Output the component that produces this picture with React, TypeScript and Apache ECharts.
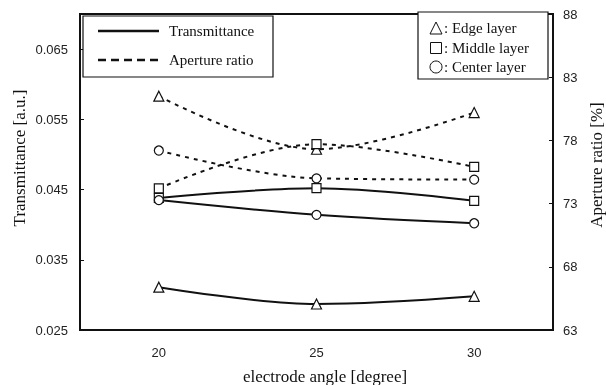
import React, { useEffect, useRef } from "react";
import * as echarts from "echarts";

const categories = ["20", "25", "30"];
const transEdge = [0.0311, 0.0287, 0.0298];
const transMiddle = [0.0438, 0.0452, 0.0434];
const transCenter = [0.0435, 0.0414, 0.0402];
const apertureEdge = [81.5, 77.3, 80.2];
const apertureMiddle = [74.2, 77.7, 75.9];
const apertureCenter = [77.2, 75.0, 74.9];
const leftTicks = [0.025, 0.035, 0.045, 0.055, 0.065];
const rightTicks = [63, 68, 73, 78, 83, 88];

const SERIF = "Liberation Serif";
const SANS = "Liberation Sans";
const INK = "#111";

function mk(name: string, data: number[], axis: number, symbol: string, dashed: boolean) {
  return {
    type: "line",
    name,
    data,
    yAxisIndex: axis,
    smooth: 0.35,
    symbol,
    symbolSize: symbol === "triangle" ? 10 : 9,
    showSymbol: true,
    lineStyle: { color: INK, width: 2, type: dashed ? [4, 5] : "solid" },
    itemStyle: { color: "#fff", borderColor: INK, borderWidth: 1.2 },
    emphasis: { disabled: true },
  };
}

export default function App() {
  const ref = useRef<HTMLDivElement>(null);
  useEffect(() => {
    const chart = echarts.init(ref.current!, null, { renderer: "svg" });
    const txt = (text: string, x: number, y: number, size: number, extra: any = {}) => ({
      type: "text",
      x,
      y,
      z: 100,
      ...extra,
      style: {
        text,
        fill: INK,
        font: `${size}px "${SERIF}"`,
        align: extra.align || "left",
        verticalAlign: "middle",
      },
    });
    chart.setOption({
      animation: false,
      grid: { left: 80, right: 53, top: 14, bottom: 55, show: true, borderColor: INK, borderWidth: 2 },
      xAxis: {
        type: "category",
        data: categories,
        boundaryGap: true,
        axisLine: { lineStyle: { color: INK, width: 2 } },
        axisTick: { inside: true, length: 5, lineStyle: { color: INK } },
        axisLabel: { fontFamily: SANS, fontSize: 13, color: "#222", margin: 16 },
      },
      yAxis: [
        {
          type: "value",
          min: 0.025,
          max: 0.07,
          axisLine: { show: true, lineStyle: { color: INK, width: 2 } },
          axisTick: { show: true, inside: true, length: 4, customValues: leftTicks, lineStyle: { color: INK } },
          axisLabel: {
            customValues: leftTicks,
            formatter: (v: number) => v.toFixed(3),
            fontFamily: SANS,
            fontSize: 13,
            color: "#222",
            margin: 12,
          },
          splitLine: { show: false },
        },
        {
          type: "value",
          min: 63,
          max: 88,
          position: "right",
          axisLine: { show: true, lineStyle: { color: INK, width: 2 } },
          axisTick: { show: true, inside: true, length: 4, customValues: rightTicks, lineStyle: { color: INK } },
          axisLabel: { customValues: rightTicks, fontFamily: SANS, fontSize: 13, color: "#222", margin: 10 },
          splitLine: { show: false },
        },
      ],
      series: [
        mk("Transmittance Edge", transEdge, 0, "triangle", false),
        mk("Transmittance Middle", transMiddle, 0, "rect", false),
        mk("Transmittance Center", transCenter, 0, "circle", false),
        mk("Aperture Edge", apertureEdge, 1, "triangle", true),
        mk("Aperture Middle", apertureMiddle, 1, "rect", true),
        mk("Aperture Center", apertureCenter, 1, "circle", true),
      ],
      graphic: [
        { type: "rect", z: 99, shape: { x: 83, y: 16, width: 190, height: 61 }, style: { fill: "#fff", stroke: INK, lineWidth: 1.2 } },
        { type: "line", z: 100, shape: { x1: 98, y1: 31, x2: 159, y2: 31 }, style: { stroke: INK, lineWidth: 2.5 } },
        { type: "line", z: 100, shape: { x1: 98, y1: 60, x2: 159, y2: 60 }, style: { stroke: INK, lineWidth: 2.5, lineDash: [8, 5] } },
        txt("Transmittance", 169, 31, 15),
        txt("Aperture ratio", 169, 60, 15),
        { type: "rect", z: 99, shape: { x: 418, y: 12, width: 130, height: 67 }, style: { fill: "#fff", stroke: INK, lineWidth: 1.2 } },
        { type: "polygon", z: 100, shape: { points: [[430, 34], [442, 34], [436, 22]] }, style: { fill: "#fff", stroke: INK, lineWidth: 1 } },
        { type: "rect", z: 100, shape: { x: 430.5, y: 42.5, width: 11, height: 11 }, style: { fill: "#fff", stroke: INK, lineWidth: 1 } },
        { type: "circle", z: 100, shape: { cx: 436, cy: 67, r: 6 }, style: { fill: "#fff", stroke: INK, lineWidth: 1 } },
        txt(": Edge layer", 444, 28, 15),
        txt(": Middle layer", 444, 48, 15),
        txt(": Center layer", 444, 67, 15),
        txt("Transmittance [a.u.]", 19, 158, 17, { rotation: Math.PI / 2, align: "center" }),
        txt("Aperture ratio [%]", 596, 165, 17, { rotation: Math.PI / 2, align: "center" }),
        txt("electrode angle [degree]", 325, 376, 17, { align: "center" }),
      ],
    });
    return () => chart.dispose();
  }, []);
  return <div ref={ref} style={{ position: "fixed", left: 0, top: 0, width: 606, height: 385 }} />;
}
